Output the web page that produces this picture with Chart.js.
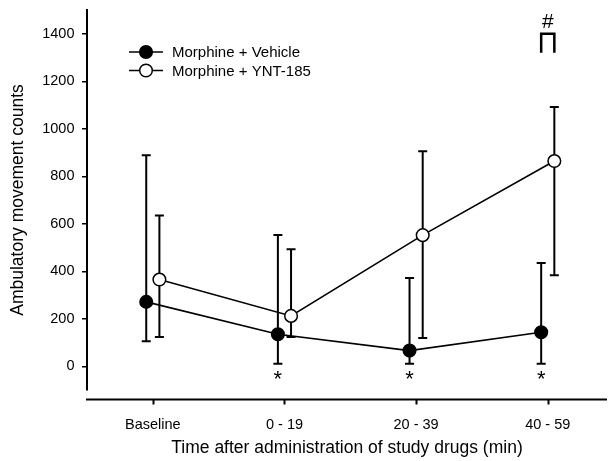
<!DOCTYPE html>
<html>
<head>
<meta charset="utf-8">
<script src="https://cdn.jsdelivr.net/npm/chart.js@4.4.1/dist/chart.umd.min.js"></script>
<style>
  html, body { margin: 0; padding: 0; background: #fff; }
</style>
</head>
<body>
<canvas id="chart" width="608" height="461"></canvas>
<script>
// values
const categories = ['Baseline', '0 - 19', '20 - 39', '40 - 59'];
const seriesNames = ['Morphine + Vehicle', 'Morphine + YNT-185'];
const vehicleMean = [271, 135, 66, 143];
const vehicleHigh = [888, 553, 372, 435];
const vehicleLow = [105, 11, 11, 11];
const yntMean = [365, 212, 552, 864];
const yntHigh = [635, 493, 905, 1092];
const yntLow = [123, 123, 119, 383];
const yTicks = [0, 200, 400, 600, 800, 1000, 1200, 1400];
const vehicleMarks = ['', '*', '*', '*'];
const groupMarks = ['', '', '', '#'];

Chart.defaults.font.family = '"Liberation Sans", Arial, sans-serif';
Chart.defaults.color = '#000';

const shift = 0.05;
const toPoints = (vals, dx) => vals.map((v, i) => ({ x: i + dx, y: v }));

const errorBars = {
  id: 'errorBars',
  beforeDatasetsDraw(chart) {
    const { ctx, scales: { x, y } } = chart;
    ctx.save();
    ctx.strokeStyle = '#000';
    ctx.lineWidth = 2;
    chart.data.datasets.forEach(ds => {
      ds.data.forEach((p, j) => {
        const px = x.getPixelForValue(p.x);
        const top = y.getPixelForValue(ds.high[j]);
        const bot = y.getPixelForValue(ds.low[j]);
        ctx.beginPath();
        ctx.moveTo(px, top); ctx.lineTo(px, bot);
        ctx.moveTo(px - 4.5, top); ctx.lineTo(px + 4.5, top);
        ctx.moveTo(px - 4.5, bot); ctx.lineTo(px + 4.5, bot);
        ctx.stroke();
      });
    });
    ctx.restore();
  }
};

const extras = {
  id: 'extras',
  afterDraw(chart) {
    const { ctx, chartArea, scales: { x, y } } = chart;
    ctx.save();
    ctx.strokeStyle = '#000';
    ctx.fillStyle = '#000';

    // detached x axis line with ticks
    const ax = chartArea.bottom + 9.5;
    ctx.lineWidth = 2;
    ctx.beginPath();
    ctx.moveTo(chartArea.left - 1, ax);
    ctx.lineTo(chartArea.right, ax);
    x.ticks.forEach(t => {
      const px = Math.round(x.getPixelForValue(t.value)) + 0.5;
      ctx.moveTo(px, ax);
      ctx.lineTo(px, ax + 5);
    });
    ctx.stroke();

    // significance marks
    ctx.textAlign = 'center';
    ctx.textBaseline = 'middle';
    ctx.font = '22px "Liberation Sans", Arial';
    vehicleMarks.forEach((m, j) => {
      if (m) ctx.fillText(m, x.getPixelForValue(j - shift), y.getPixelForValue(-45) + 3);
    });
    ctx.font = '21px "Liberation Sans", Arial';
    groupMarks.forEach((m, j) => {
      if (!m) return;
      const x1 = x.getPixelForValue(j - shift);
      const x2 = x.getPixelForValue(j + shift);
      const yt = y.getPixelForValue(1400);
      const yb = y.getPixelForValue(1320);
      ctx.lineWidth = 2.5;
      ctx.beginPath();
      ctx.moveTo(x1, yb); ctx.lineTo(x1, yt); ctx.lineTo(x2, yt); ctx.lineTo(x2, yb);
      ctx.stroke();
      ctx.fillText(m, x.getPixelForValue(j), y.getPixelForValue(1450));
    });

    // legend
    ctx.font = '15px "Liberation Sans", Arial';
    ctx.textAlign = 'left';
    chart.data.datasets.forEach((ds, i) => {
      const ly = 52 + i * 18.5;
      ctx.lineWidth = 1.6;
      ctx.beginPath();
      ctx.moveTo(129, ly); ctx.lineTo(163, ly);
      ctx.stroke();
      ctx.beginPath();
      ctx.arc(146, ly, ds.pointRadius, 0, Math.PI * 2);
      ctx.fillStyle = ds.pointBackgroundColor;
      ctx.fill();
      ctx.lineWidth = ds.pointBorderWidth;
      ctx.stroke();
      ctx.fillStyle = '#000';
      ctx.fillText(ds.label, 172, ly + 1);
    });
    ctx.restore();
  }
};

new Chart(document.getElementById('chart'), {
  type: 'scatter',
  data: {
    datasets: [
      {
        label: seriesNames[0],
        data: toPoints(vehicleMean, -shift),
        high: vehicleHigh, low: vehicleLow,
        showLine: true,
        borderColor: '#000', borderWidth: 1.6,
        pointRadius: 6.3, pointHoverRadius: 6.3,
        pointBackgroundColor: '#000', pointBorderColor: '#000', pointBorderWidth: 1.5
      },
      {
        label: seriesNames[1],
        data: toPoints(yntMean, shift),
        high: yntHigh, low: yntLow,
        showLine: true,
        borderColor: '#000', borderWidth: 1.6,
        pointRadius: 6.3, pointHoverRadius: 6.3,
        pointBackgroundColor: '#fff', pointBorderColor: '#000', pointBorderWidth: 1.5
      }
    ]
  },
  options: {
    responsive: false,
    animation: false,
    events: [],
    layout: { autoPadding: false, padding: { top: 10, right: 1, left: 0, bottom: 0 } },
    plugins: { legend: { display: false }, tooltip: { enabled: false } },
    scales: {
      x: {
        type: 'linear', min: -0.5, max: 3.45,
        grid: { display: false },
        border: { display: false },
        afterBuildTicks: s => { s.ticks = categories.map((c, i) => ({ value: i })); },
        ticks: { callback: v => categories[v], padding: 18, font: { size: 14.5 }, maxRotation: 0, autoSkip: false },
        title: { display: true, text: 'Time after administration of study drugs (min)', font: { size: 17.5 }, padding: 2.5 },
        afterFit: s => { s.height = 71; s.paddingLeft = 0; s.paddingRight = 0; }
      },
      y: {
        min: -100, max: 1500,
        afterBuildTicks: s => { s.ticks = yTicks.map(v => ({ value: v })); },
        grid: { drawOnChartArea: false, drawTicks: true, tickLength: 5, color: '#000', lineWidth: 1.5 },
        border: { display: true, color: '#000', width: 2 },
        ticks: { callback: v => String(v), padding: 7.5, font: { size: 14.5 } },
        title: { display: true, text: 'Ambulatory movement counts', font: { size: 17.5 }, padding: 7.5 },
        afterFit: s => { s.width = 87; s.paddingTop = 0; s.paddingBottom = 0; }
      }
    }
  },
  plugins: [errorBars, extras]
});
</script>
</body>
</html>
